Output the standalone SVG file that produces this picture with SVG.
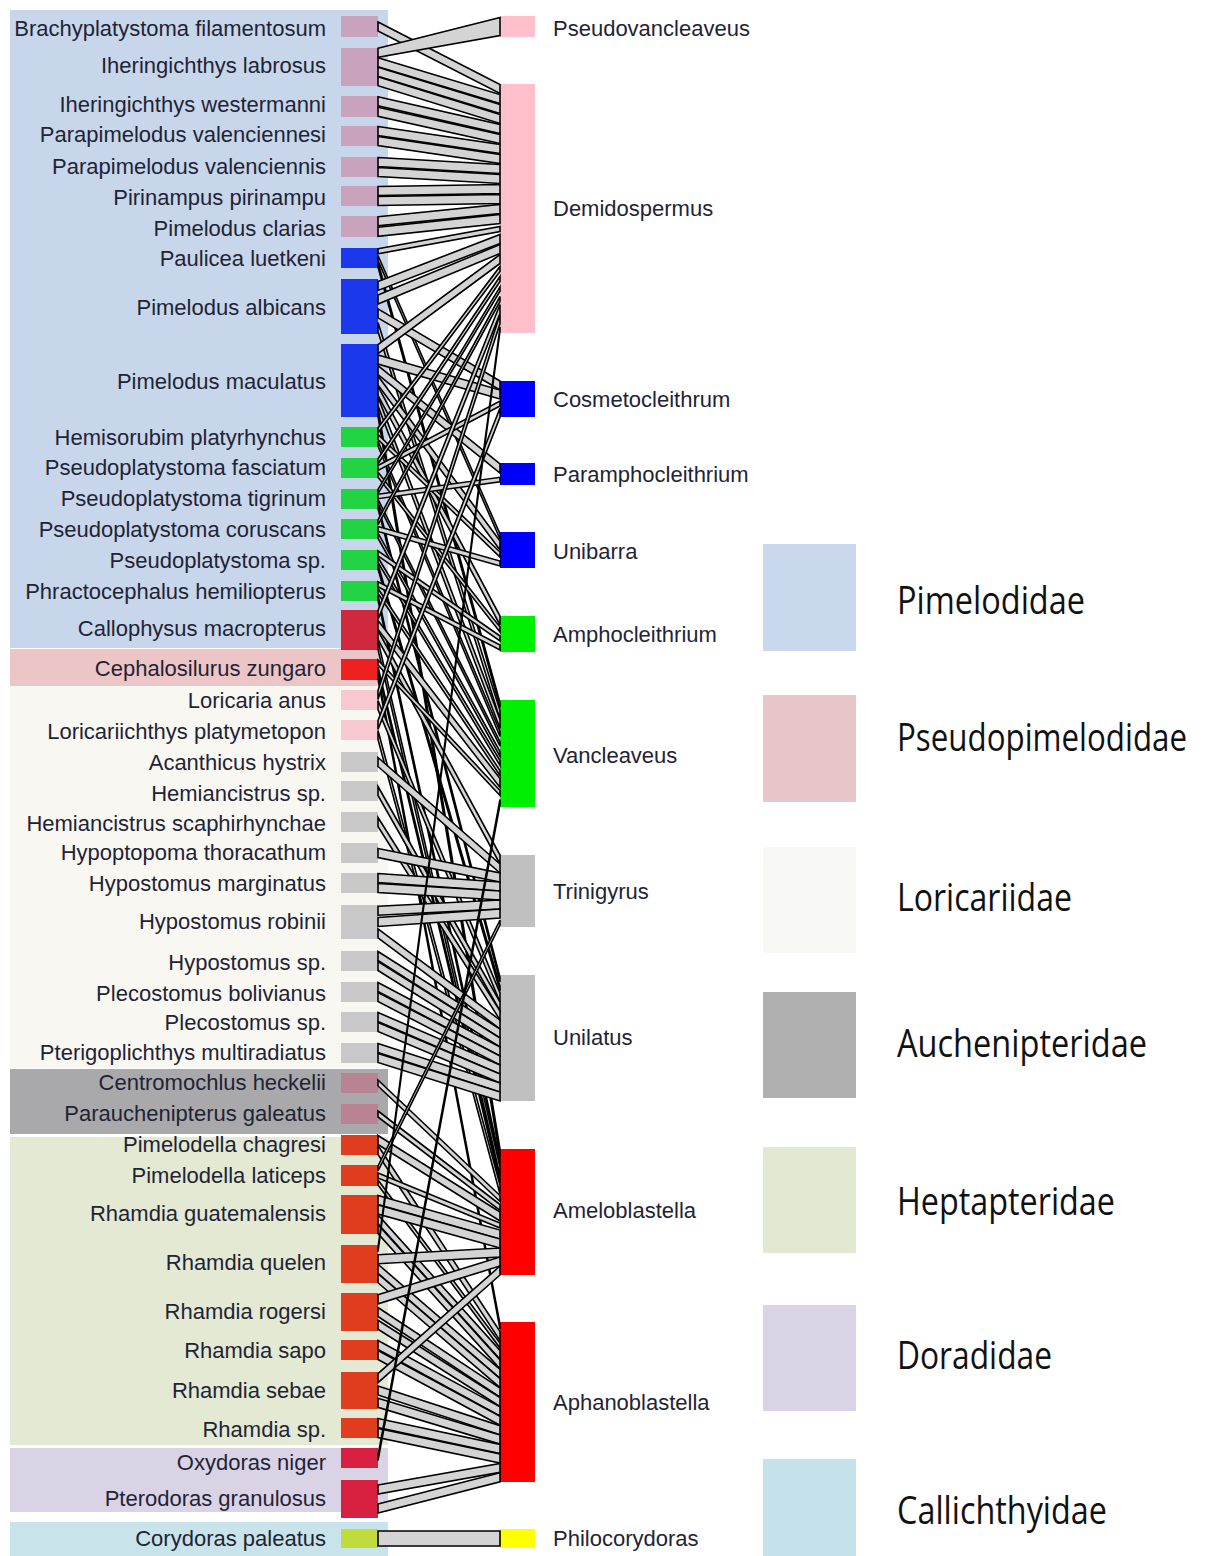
<svg xmlns="http://www.w3.org/2000/svg" width="1208" height="1556" viewBox="0 0 1208 1556">
<style>
.lbl{font-family:"Liberation Sans",Arial,sans-serif;font-size:22px;fill:#1f2435}
.h{text-anchor:end}
.band{fill:#d4d4d4;stroke:#000;stroke-width:1.6;stroke-linejoin:miter}
.leg{font-family:"Open Sans","Noto Sans",sans-serif;font-size:38px;fill:#111}
.pm{fill:#c9a3bd}.bl{fill:#1c38ec}.gr{fill:#22d444}.cr{fill:#d0283c}.rd{fill:#ee2020}.pk{fill:#f8c8d0}.gy{fill:#c8c8c8}.au{fill:#b88392}.hp{fill:#e03c1e}.dr{fill:#d82040}.yg{fill:#c0dc3c}
.ppk{fill:#ffc0cb}.pbl{fill:#0000ff}.pgr{fill:#00ee00}.pgy{fill:#c0c0c0}.prd{fill:#ff0000}.pyl{fill:#ffff00}
</style>
<rect width="1208" height="1556" fill="#ffffff"/>
<g id="families">
<rect x="10" y="10" width="378" height="638" fill="#c7d6ea"/>
<rect x="10" y="649" width="370" height="37" fill="#ecc6c6"/>
<rect x="10" y="686" width="378" height="382" fill="#f8f7f2"/>
<rect x="10" y="1069" width="378" height="65" fill="#a9a9ab"/>
<rect x="10" y="1137" width="378" height="308" fill="#e3e9d3"/>
<rect x="10" y="1448" width="378" height="64" fill="#dad2e5"/>
<rect x="10" y="1522" width="378" height="34" fill="#c9e3ea"/>
</g>
<g id="hosts">
<g id="h1"><rect class="pm" x="341" y="16" width="37" height="21"/><text class="lbl h" x="326" y="36">Brachyplatystoma filamentosum</text></g>
<g id="h2"><rect class="pm" x="341" y="48" width="37" height="38"/><text class="lbl h" x="326" y="73">Iheringichthys labrosus</text></g>
<g id="h3"><rect class="pm" x="341" y="96" width="37" height="21"/><text class="lbl h" x="326" y="112">Iheringichthys westermanni</text></g>
<g id="h4"><rect class="pm" x="341" y="126" width="37" height="20"/><text class="lbl h" x="326" y="142">Parapimelodus valenciennesi</text></g>
<g id="h5"><rect class="pm" x="341" y="157" width="37" height="20"/><text class="lbl h" x="326" y="174">Parapimelodus valenciennis</text></g>
<g id="h6"><rect class="pm" x="341" y="186" width="37" height="20"/><text class="lbl h" x="326" y="205">Pirinampus pirinampu</text></g>
<g id="h7"><rect class="pm" x="341" y="216" width="37" height="21"/><text class="lbl h" x="326" y="236">Pimelodus clarias</text></g>
<g id="h8"><rect class="bl" x="341" y="248" width="37" height="20"/><text class="lbl h" x="326" y="266">Paulicea luetkeni</text></g>
<g id="h9"><rect class="bl" x="341" y="279" width="37" height="55"/><text class="lbl h" x="326" y="315">Pimelodus albicans</text></g>
<g id="h10"><rect class="bl" x="341" y="344" width="37" height="73"/><text class="lbl h" x="326" y="389">Pimelodus maculatus</text></g>
<g id="h11"><rect class="gr" x="341" y="427" width="37" height="20"/><text class="lbl h" x="326" y="445">Hemisorubim platyrhynchus</text></g>
<g id="h12"><rect class="gr" x="341" y="458" width="37" height="20"/><text class="lbl h" x="326" y="475">Pseudoplatystoma fasciatum</text></g>
<g id="h13"><rect class="gr" x="341" y="489" width="37" height="20"/><text class="lbl h" x="326" y="506">Pseudoplatystoma tigrinum</text></g>
<g id="h14"><rect class="gr" x="341" y="519" width="37" height="20"/><text class="lbl h" x="326" y="537">Pseudoplatystoma coruscans</text></g>
<g id="h15"><rect class="gr" x="341" y="550" width="37" height="20"/><text class="lbl h" x="326" y="568">Pseudoplatystoma sp.</text></g>
<g id="h16"><rect class="gr" x="341" y="581" width="37" height="20"/><text class="lbl h" x="326" y="599">Phractocephalus hemiliopterus</text></g>
<g id="h17"><rect class="cr" x="341" y="610" width="37" height="40"/><text class="lbl h" x="326" y="636">Callophysus macropterus</text></g>
<g id="h18"><rect class="rd" x="341" y="659" width="37" height="21"/><text class="lbl h" x="326" y="676">Cephalosilurus zungaro</text></g>
<g id="h19"><rect class="pk" x="341" y="690" width="37" height="20"/><text class="lbl h" x="326" y="708">Loricaria anus</text></g>
<g id="h20"><rect class="pk" x="341" y="720" width="37" height="20"/><text class="lbl h" x="326" y="739">Loricariichthys platymetopon</text></g>
<g id="h21"><rect class="gy" x="341" y="752" width="37" height="20"/><text class="lbl h" x="326" y="770">Acanthicus hystrix</text></g>
<g id="h22"><rect class="gy" x="341" y="781" width="37" height="20"/><text class="lbl h" x="326" y="801">Hemiancistrus sp.</text></g>
<g id="h23"><rect class="gy" x="341" y="812" width="37" height="20"/><text class="lbl h" x="326" y="831">Hemiancistrus scaphirhynchae</text></g>
<g id="h24"><rect class="gy" x="341" y="843" width="37" height="20"/><text class="lbl h" x="326" y="860">Hypoptopoma thoracathum</text></g>
<g id="h25"><rect class="gy" x="341" y="873" width="37" height="20"/><text class="lbl h" x="326" y="891">Hypostomus marginatus</text></g>
<g id="h26"><rect class="gy" x="341" y="905" width="37" height="34"/><text class="lbl h" x="326" y="929">Hypostomus robinii</text></g>
<g id="h27"><rect class="gy" x="341" y="951" width="37" height="20"/><text class="lbl h" x="326" y="970">Hypostomus sp.</text></g>
<g id="h28"><rect class="gy" x="341" y="982" width="37" height="20"/><text class="lbl h" x="326" y="1001">Plecostomus bolivianus</text></g>
<g id="h29"><rect class="gy" x="341" y="1012" width="37" height="20"/><text class="lbl h" x="326" y="1030">Plecostomus sp.</text></g>
<g id="h30"><rect class="gy" x="341" y="1043" width="37" height="20"/><text class="lbl h" x="326" y="1060">Pterigoplichthys multiradiatus</text></g>
<g id="h31"><rect class="au" x="341" y="1073" width="37" height="20"/><text class="lbl h" x="326" y="1090">Centromochlus heckelii</text></g>
<g id="h32"><rect class="au" x="341" y="1104" width="37" height="20"/><text class="lbl h" x="326" y="1121">Parauchenipterus galeatus</text></g>
<g id="h33"><rect class="hp" x="341" y="1135" width="37" height="20"/><text class="lbl h" x="326" y="1152">Pimelodella chagresi</text></g>
<g id="h34"><rect class="hp" x="341" y="1165" width="37" height="21"/><text class="lbl h" x="326" y="1183">Pimelodella laticeps</text></g>
<g id="h35"><rect class="hp" x="341" y="1195" width="37" height="39"/><text class="lbl h" x="326" y="1221">Rhamdia guatemalensis</text></g>
<g id="h36"><rect class="hp" x="341" y="1245" width="37" height="38"/><text class="lbl h" x="326" y="1270">Rhamdia quelen</text></g>
<g id="h37"><rect class="hp" x="341" y="1293" width="37" height="38"/><text class="lbl h" x="326" y="1319">Rhamdia rogersi</text></g>
<g id="h38"><rect class="hp" x="341" y="1340" width="37" height="20"/><text class="lbl h" x="326" y="1358">Rhamdia sapo</text></g>
<g id="h39"><rect class="hp" x="341" y="1372" width="37" height="37"/><text class="lbl h" x="326" y="1398">Rhamdia sebae</text></g>
<g id="h40"><rect class="hp" x="341" y="1418" width="37" height="20"/><text class="lbl h" x="326" y="1437">Rhamdia sp.</text></g>
<g id="h41"><rect class="dr" x="341" y="1448" width="37" height="20"/><text class="lbl h" x="326" y="1470">Oxydoras niger</text></g>
<g id="h42"><rect class="dr" x="341" y="1480" width="37" height="38"/><text class="lbl h" x="326" y="1506">Pterodoras granulosus</text></g>
<g id="h43"><rect class="yg" x="341" y="1529" width="37" height="19"/><text class="lbl h" x="326" y="1546">Corydoras paleatus</text></g>
</g>
<g id="parasites">
<g id="p1"><rect class="ppk" x="500" y="16" width="35" height="21"/><text class="lbl" x="553" y="36">Pseudovancleaveus</text></g>
<g id="p2"><rect class="ppk" x="500" y="84" width="35" height="249"/><text class="lbl" x="553" y="216">Demidospermus</text></g>
<g id="p3"><rect class="pbl" x="500" y="381" width="35" height="36"/><text class="lbl" x="553" y="407">Cosmetocleithrum</text></g>
<g id="p4"><rect class="pbl" x="500" y="463" width="35" height="22"/><text class="lbl" x="553" y="482">Paramphocleithrium</text></g>
<g id="p5"><rect class="pbl" x="500" y="532" width="35" height="36"/><text class="lbl" x="553" y="559">Unibarra</text></g>
<g id="p6"><rect class="pgr" x="500" y="616" width="35" height="36"/><text class="lbl" x="553" y="642">Amphocleithrium</text></g>
<g id="p7"><rect class="pgr" x="500" y="700" width="35" height="107"/><text class="lbl" x="553" y="763">Vancleaveus</text></g>
<g id="p8"><rect class="pgy" x="500" y="855" width="35" height="72"/><text class="lbl" x="553" y="899">Trinigyrus</text></g>
<g id="p9"><rect class="pgy" x="500" y="975" width="35" height="126"/><text class="lbl" x="553" y="1045">Unilatus</text></g>
<g id="p10"><rect class="prd" x="500" y="1149" width="35" height="126"/><text class="lbl" x="553" y="1218">Ameloblastella</text></g>
<g id="p11"><rect class="prd" x="500" y="1322" width="35" height="160"/><text class="lbl" x="553" y="1410">Aphanoblastella</text></g>
<g id="p12"><rect class="pyl" x="500" y="1529" width="35" height="19"/><text class="lbl" x="553" y="1546">Philocorydoras</text></g>
</g>
<g id="connectors">
<polygon class="band" points="378,22 500,84.5 500,93.5 378,31"/>
<polygon class="band" points="378,48.25 500,17.5 500,35.5 378,57.25"/>
<polygon class="band" points="378,57.75 500,94.5 500,103.5 378,66.75"/>
<polygon class="band" points="378,67.25 500,104.5 500,113.5 378,76.25"/>
<polygon class="band" points="378,76.75 500,114.5 500,123.5 378,85.75"/>
<polygon class="band" points="378,96.75 500,124.5 500,133.5 378,105.75"/>
<polygon class="band" points="378,107.25 500,134.5 500,143.5 378,116.25"/>
<polygon class="band" points="378,126.5 500,144.5 500,153.5 378,135.5"/>
<polygon class="band" points="378,136.5 500,154.5 500,163.5 378,145.5"/>
<polygon class="band" points="378,157.5 500,164.5 500,173.5 378,166.5"/>
<polygon class="band" points="378,167.5 500,174.5 500,183.5 378,176.5"/>
<polygon class="band" points="378,186.5 500,184.5 500,193.5 378,195.5"/>
<polygon class="band" points="378,196.5 500,194.5 500,203.5 378,205.5"/>
<polygon class="band" points="378,216.75 500,204.5 500,213.5 378,225.75"/>
<polygon class="band" points="378,227.25 500,214.5 500,223.5 378,236.25"/>
<polygon class="band" points="378,248.8 500,226.5 500,231.5 378,253.8"/>
<polygon class="band" points="378,255.5 500,534 500,539 378,260.5"/>
<polygon class="band" points="378,262.2 500,702.5 500,707.5 378,267.2"/>
<polygon class="band" points="378,281.4 500,234.5 500,243.5 378,290.4"/>
<polygon class="band" points="378,295.1 500,244.5 500,253.5 378,304.1"/>
<polygon class="band" points="378,308.9 500,381 500,390 378,317.9"/>
<polygon class="band" points="378,322.6 500,710.5 500,719.5 378,331.6"/>
<polygon class="band" points="378,344.7 500,254.5 500,263.5 378,353.7"/>
<polygon class="band" points="378,355.1 500,390 500,399 378,364.1"/>
<polygon class="band" points="378,365.6 500,464 500,473 378,374.6"/>
<polygon class="band" points="378,376 500,541 500,550 378,385"/>
<polygon class="band" points="378,386.4 500,616 500,625 378,395.4"/>
<polygon class="band" points="378,396.9 500,719.5 500,728.5 378,405.9"/>
<polygon class="band" points="378,407.3 500,1149 500,1158 378,416.3"/>
<polygon class="band" points="378,427.8 500,266.5 500,271.5 378,432.8"/>
<polygon class="band" points="378,434.5 500,552 500,557 378,439.5"/>
<polygon class="band" points="378,441.2 500,731.5 500,736.5 378,446.2"/>
<polygon class="band" points="378,458.8 500,276.5 500,281.5 378,463.8"/>
<polygon class="band" points="378,465.5 500,401 500,406 378,470.5"/>
<polygon class="band" points="378,472.2 500,627 500,632 378,477.2"/>
<polygon class="band" points="378,489.3 500,286.8 500,291.2 378,493.7"/>
<polygon class="band" points="378,494.3 500,477.3 500,481.7 378,498.7"/>
<polygon class="band" points="378,499.3 500,741.8 500,746.2 378,503.7"/>
<polygon class="band" points="378,504.3 500,977.3 500,981.7 378,508.7"/>
<polygon class="band" points="378,519.8 500,296.5 500,301.5 378,524.8"/>
<polygon class="band" points="378,526.5 500,561 500,566 378,531.5"/>
<polygon class="band" points="378,533.2 500,751.5 500,756.5 378,538.2"/>
<polygon class="band" points="378,550.8 500,636 500,641 378,555.8"/>
<polygon class="band" points="378,557.5 500,760.5 500,765.5 378,562.5"/>
<polygon class="band" points="378,564.2 500,986 500,991 378,569.2"/>
<polygon class="band" points="378,581.8 500,645 500,650 378,586.8"/>
<polygon class="band" points="378,588.5 500,770.5 500,775.5 378,593.5"/>
<polygon class="band" points="378,595.2 500,1160 500,1165 378,600.2"/>
<polygon class="band" points="378,610.5 500,304.5 500,313.5 378,619.5"/>
<polygon class="band" points="378,620.5 500,778.5 500,787.5 378,629.5"/>
<polygon class="band" points="378,630.5 500,855 500,864 378,639.5"/>
<polygon class="band" points="378,640.5 500,1167 500,1176 378,649.5"/>
<polygon class="band" points="378,660 500,790.5 500,795.5 378,665"/>
<polygon class="band" points="378,667 500,1178 500,1183 378,672"/>
<polygon class="band" points="378,674 500,1324.2 500,1329.2 378,679"/>
<polygon class="band" points="378,690.5 500,314.5 500,323.5 378,699.5"/>
<polygon class="band" points="378,700.5 500,993 500,1002 378,709.5"/>
<polygon class="band" points="378,720.5 500,408 500,417 378,729.5"/>
<polygon class="band" points="378,730.5 500,1185 500,1194 378,739.5"/>
<polygon class="band" points="378,757.5 500,864 500,873 378,766.5"/>
<polygon class="band" points="378,786.5 500,1002 500,1011 378,795.5"/>
<polygon class="band" points="378,817.5 500,1011 500,1020 378,826.5"/>
<polygon class="band" points="378,848.5 500,873 500,882 378,857.5"/>
<polygon class="band" points="378,873.5 500,882 500,891 378,882.5"/>
<polygon class="band" points="378,883.5 500,891 500,900 378,892.5"/>
<polygon class="band" points="378,906.2 500,900 500,909 378,915.2"/>
<polygon class="band" points="378,917.5 500,909 500,918 378,926.5"/>
<polygon class="band" points="378,928.8 500,1020 500,1029 378,937.8"/>
<polygon class="band" points="378,951.5 500,1029 500,1038 378,960.5"/>
<polygon class="band" points="378,961.5 500,1038 500,1047 378,970.5"/>
<polygon class="band" points="378,982.5 500,1047 500,1056 378,991.5"/>
<polygon class="band" points="378,992.5 500,1056 500,1065 378,1001.5"/>
<polygon class="band" points="378,1012.5 500,1065 500,1074 378,1021.5"/>
<polygon class="band" points="378,1022.5 500,1074 500,1083 378,1031.5"/>
<polygon class="band" points="378,1043.5 500,1083 500,1092 378,1052.5"/>
<polygon class="band" points="378,1053.5 500,1092 500,1101 378,1062.5"/>
<polygon class="band" points="378,1080 500,1195.5 500,1201.5 378,1086"/>
<polygon class="band" points="378,1111 500,1204.5 500,1210.5 378,1117"/>
<polygon class="band" points="378,1135.5 500,1212 500,1221 378,1144.5"/>
<polygon class="band" points="378,1145.5 500,1331.6 500,1340.6 378,1154.5"/>
<polygon class="band" points="378,1166 500,920 500,925 378,1171"/>
<polygon class="band" points="378,1173 500,1223 500,1228 378,1178"/>
<polygon class="band" points="378,1180 500,1343 500,1348 378,1185"/>
<polygon class="band" points="378,1195.4 500,1230 500,1239 378,1204.4"/>
<polygon class="band" points="378,1205.1 500,1239 500,1248 378,1214.1"/>
<polygon class="band" points="378,1214.9 500,1350.4 500,1359.4 378,1223.9"/>
<polygon class="band" points="378,1224.6 500,1359.9 500,1368.9 378,1233.6"/>
<polygon class="band" points="378,1247.75 500,327 500,331 378,1251.75"/>
<polygon class="band" points="378,1254.75 500,1248 500,1257 378,1263.75"/>
<polygon class="band" points="378,1264.25 500,1369.3 500,1378.3 378,1273.25"/>
<polygon class="band" points="378,1273.75 500,1378.7 500,1387.7 378,1282.75"/>
<polygon class="band" points="378,1294.8 500,1257 500,1266 378,1303.8"/>
<polygon class="band" points="378,1307.5 500,1388.1 500,1397.1 378,1316.5"/>
<polygon class="band" points="378,1320.2 500,1397.5 500,1406.5 378,1329.2"/>
<polygon class="band" points="378,1340.5 500,1406.9 500,1415.9 378,1349.5"/>
<polygon class="band" points="378,1350.5 500,1416.3 500,1425.3 378,1359.5"/>
<polygon class="band" points="378,1373.7 500,1266 500,1275 378,1382.7"/>
<polygon class="band" points="378,1386 500,1425.7 500,1434.7 378,1395"/>
<polygon class="band" points="378,1398.3 500,1435.1 500,1444.1 378,1407.3"/>
<polygon class="band" points="378,1418.5 500,1444.5 500,1453.5 378,1427.5"/>
<polygon class="band" points="378,1428.5 500,1454 500,1463 378,1437.5"/>
<polygon class="band" points="378,1455.5 500,799.5 500,804.5 378,1460.5"/>
<polygon class="band" points="378,1485 500,1463.4 500,1472.4 378,1494"/>
<polygon class="band" points="378,1504 500,1472.8 500,1481.8 378,1513"/>
<polygon class="band" points="378,1531 500,1531 500,1546 378,1546"/>
</g>
<g id="legend">
<g id="leg-pimelodidae"><rect x="763" y="544" width="93" height="107" fill="#c9d8ec"/><text class="leg" x="897" y="614" textLength="188" lengthAdjust="spacingAndGlyphs">Pimelodidae</text></g>
<g id="leg-pseudopimelodidae"><rect x="763" y="695" width="93" height="107" fill="#e8c5c8"/><text class="leg" x="897" y="751" textLength="290" lengthAdjust="spacingAndGlyphs">Pseudopimelodidae</text></g>
<g id="leg-loricariidae"><rect x="763" y="847" width="93" height="106" fill="#f8f8f4"/><text class="leg" x="897" y="911" textLength="175" lengthAdjust="spacingAndGlyphs">Loricariidae</text></g>
<g id="leg-auchenipteridae"><rect x="763" y="992" width="93" height="106" fill="#b0b0b0"/><text class="leg" x="897" y="1057" textLength="250" lengthAdjust="spacingAndGlyphs">Auchenipteridae</text></g>
<g id="leg-heptapteridae"><rect x="763" y="1147" width="93" height="106" fill="#e1e9d2"/><text class="leg" x="897" y="1215" textLength="218" lengthAdjust="spacingAndGlyphs">Heptapteridae</text></g>
<g id="leg-doradidae"><rect x="763" y="1305" width="93" height="106" fill="#dad3e6"/><text class="leg" x="897" y="1369" textLength="155" lengthAdjust="spacingAndGlyphs">Doradidae</text></g>
<g id="leg-callichthyidae"><rect x="763" y="1459" width="93" height="97" fill="#c5e2ea"/><text class="leg" x="897" y="1524" textLength="210" lengthAdjust="spacingAndGlyphs">Callichthyidae</text></g>
</g>
</svg>
